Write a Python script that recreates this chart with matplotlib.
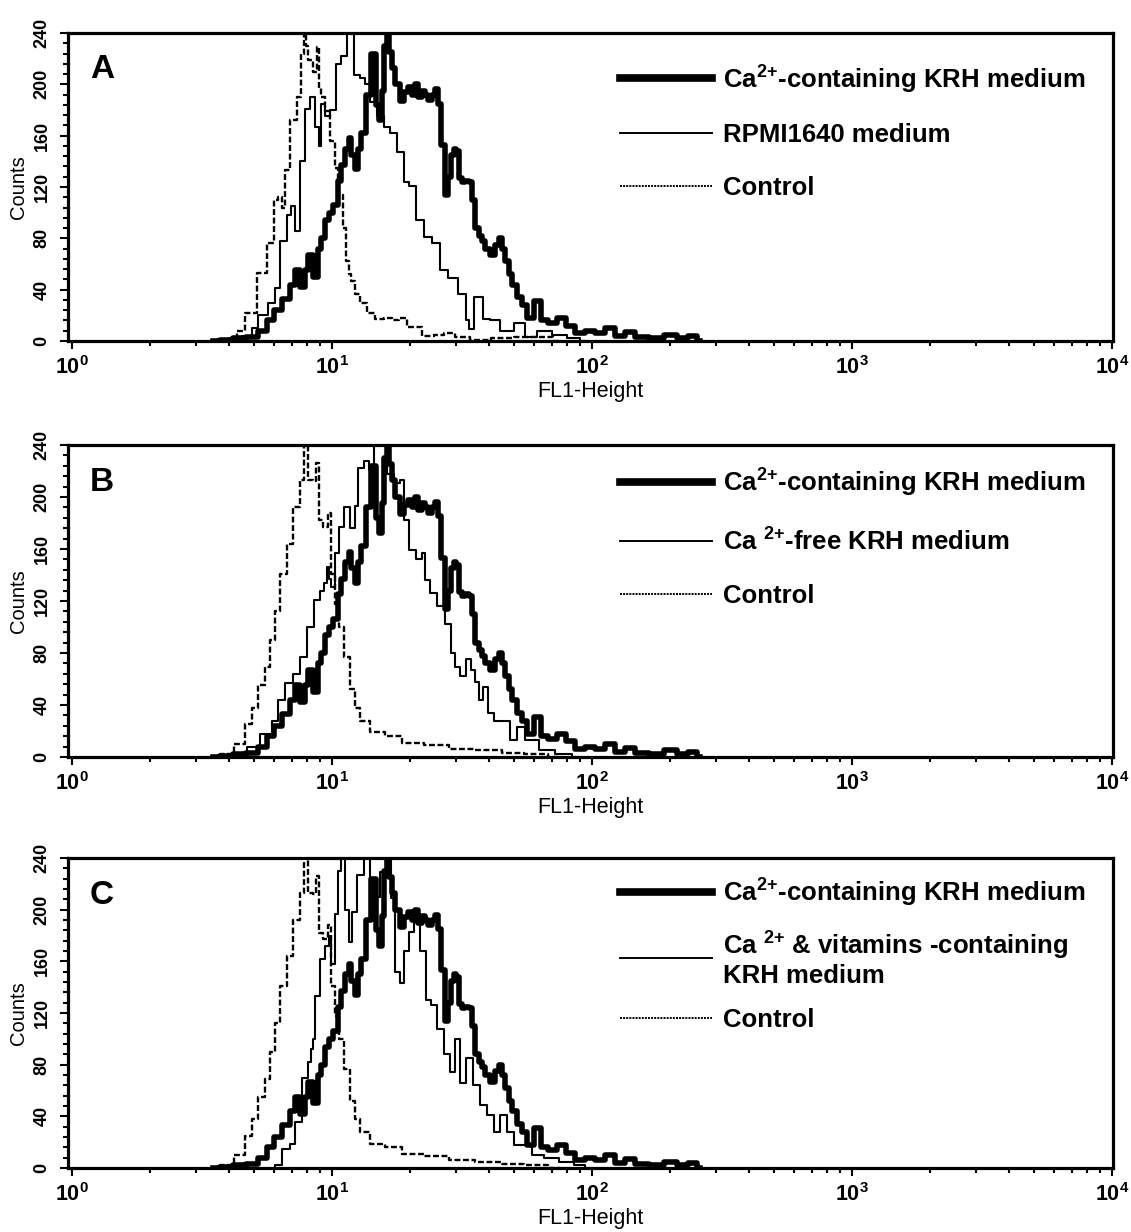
import numpy as np
import matplotlib
matplotlib.use('Agg')
import matplotlib.pyplot as plt
from matplotlib.lines import Line2D
from matplotlib.ticker import LogLocator, MultipleLocator, NullFormatter

plt.rcParams['font.family'] = ['Liberation Sans', 'DejaVu Sans']

# Ca2+-containing KRH medium (same histogram in all three panels)
krh_x = [3.5, 3.95, 4.4, 4.97, 5.43, 5.78, 6.14, 6.71, 7.08, 7.33, 7.67, 8.01, 8.23, 8.61, 8.99,
         9.23, 9.57, 9.82, 10.27, 10.73, 11.02, 11.42, 11.73, 12.04, 12.48, 12.81, 13.16, 13.75,
         14.38, 15.03, 15.3, 15.71, 16.0, 16.42, 16.71, 17.17, 17.8, 18.58, 19.42, 19.95, 20.5,
         21.2, 21.8, 22.4, 23.2, 23.8, 24.5, 25.3, 26.0, 26.5, 27.7, 28.4, 29.2, 29.7, 30.3, 31.1,
         31.9, 33.1, 33.9, 34.9, 36.1, 37.1, 38.1, 39.5, 41.6, 43.1, 44.3, 45.5, 47.1, 48.4, 49.7,
         52.9, 54.3, 57.8, 62.0, 64.8, 70.2, 76.7, 82.3, 89.9, 98.2, 107, 117, 128, 140, 153, 178,
         200, 224, 245, 260]
krh_counts = [0, 1, 2, 3, 8, 16, 24, 33, 44, 55, 42, 55, 67, 50, 72,
              80, 94, 100, 106, 125, 137, 150, 158, 145, 134, 150, 162, 192,
              224, 184, 172, 195, 230, 248, 225, 213, 200, 187, 194, 198, 192,
              200, 190, 195, 192, 188, 192, 196, 185, 153, 114, 128, 145, 150, 148, 127,
              124, 125, 124, 110, 88, 82, 78, 72, 67, 75, 80, 72, 62, 52, 44,
              34, 28, 18, 31, 16, 14, 18, 12, 6, 8, 6, 10, 4, 7, 3, 2,
              5, 2, 4, 0]

# Control, panel A
ctrl_a_x = [3.49, 3.95, 4.16, 4.43, 4.84, 5.43, 5.78, 6.14, 6.31, 6.48, 6.71, 7.08, 7.53, 7.73,
            7.87, 8.01, 8.23, 8.61, 8.83, 8.99, 9.16, 9.57, 10.09, 10.45, 10.73, 11.22, 11.42,
            11.73, 12.04, 12.48, 13.16, 14.0, 15.3, 16.29, 17.8, 18.27, 20.5, 24.0, 25.3, 28.4,
            31.0, 37.1, 45.0, 55.0, 67.1, 75.0]
ctrl_a_counts = [0, 1, 2, 8, 22, 53, 76, 110, 112, 104, 133, 172, 190, 224,
                 250, 230, 219, 210, 229, 197, 190, 179, 156, 135, 114, 88, 62,
                 52, 47, 37, 30, 22, 17, 18, 16, 18, 11, 4, 5, 6,
                 3, 1, 2, 3, 3, 0]

# Control, panels B and C
ctrl_bc_x = [3.49, 3.95, 4.43, 4.84, 5.0, 5.43, 5.62, 5.93, 6.14, 6.48, 6.89, 7.33, 7.67, 7.87,
             8.23, 8.61, 8.76, 8.99, 9.4, 9.82, 10.09, 10.45, 10.92, 11.42, 11.94, 12.48, 13.16,
             14.9, 17.17, 19.95, 25.3, 31.1, 40.0, 50.0, 60.0, 75.0]
ctrl_bc_counts = [0, 2, 10, 25, 38, 55, 69, 90, 112, 141, 164, 192, 213, 250,
                  213, 212, 226, 182, 177, 188, 141, 118, 100, 77, 52, 38, 28,
                  19, 16, 11, 9, 6, 5, 3, 2, 0]

# RPMI1640 medium (panel A)
rpmi_x = [4.16, 4.84, 5.0, 5.43, 5.93, 6.14, 6.48, 6.89, 7.08, 7.33, 7.73, 8.01, 8.45, 8.76,
          8.99, 9.16, 9.57, 10.09, 10.6, 11.02, 11.73, 12.48, 13.16, 13.6, 14.38, 15.3, 16.29,
          17.17, 18.27, 19.42, 20.3, 21.8, 23.2, 25.3, 26.7, 29.2, 31.9, 33.4, 33.9, 36.4, 39.5,
          41.6, 47.1, 52.9, 57.8, 64.8, 75.3, 84.5, 95.0]
rpmi_counts = [0, 4, 10, 20, 30, 41, 78, 98, 105, 86, 140, 181, 190, 167,
               152, 185, 175, 180, 216, 222, 245, 207, 205, 200, 186, 175, 167,
               162, 147, 124, 121, 94, 81, 76, 55, 49, 37, 16, 9, 34, 17,
               16, 8, 14, 3, 8, 5, 2, 0]

# Ca2+-free KRH medium (panel B)
free_x = [3.95, 4.43, 4.97, 5.62, 6.14, 6.31, 6.89, 7.33, 7.73, 8.23, 8.83, 9.23, 9.4, 9.66,
          9.82, 10.09, 10.45, 10.92, 11.42, 11.94, 12.48, 12.81, 13.64, 14.0, 14.9, 15.71, 16.71,
          17.8, 18.58, 19.42, 20.3, 21.8, 22.4, 23.2, 24.5, 26.0, 28.4, 29.2, 30.3, 31.9, 33.4,
          34.9, 36.1, 37.1, 38.8, 40.5, 43.1, 47.1, 49.7, 52.9, 57.8, 67.1, 77.3, 90.0]
free_counts = [0, 2, 8, 18, 28, 44, 57, 64, 77, 100, 121, 128, 134, 146,
               137, 131, 157, 177, 192, 176, 193, 222, 228, 221, 240, 250, 218,
               211, 213, 182, 159, 152, 157, 136, 126, 116, 102, 80, 69, 62, 75,
               67, 58, 44, 54, 34, 28, 28, 13, 23, 13, 5, 2, 0]

# Ca2+ & vitamins-containing KRH medium (panel C)
vit_x = [5.93, 6.14, 6.71, 7.08, 7.33, 8.01, 8.23, 8.38, 8.45, 8.83, 9.16, 9.57, 9.82, 10.09,
         10.45, 10.73, 11.02, 11.42, 11.73, 12.25, 12.81, 13.64, 14.25, 14.9, 15.71, 16.42, 17.17,
         17.8, 18.58, 19.42, 20.3, 21.2, 22.4, 23.4, 24.5, 26.0, 27.7, 29.0, 30.3, 31.9, 33.9,
         36.1, 38.1, 40.5, 43.1, 45.5, 48.4, 51.5, 56.2, 61.4, 68.9, 80.1, 89.9, 98.0]
vit_counts = [0, 2, 15, 19, 36, 70, 82, 92, 100, 133, 162, 172, 180, 158,
              197, 230, 248, 200, 175, 198, 227, 248, 222, 210, 229, 248, 209,
              152, 143, 168, 183, 194, 168, 130, 126, 108, 88, 74, 100, 66, 85,
              64, 49, 41, 28, 41, 28, 18, 18, 10, 8, 5, 2, 0]

panel_letters = ['A', 'B', 'C']
second_labels = [r'RPMI1640 medium',
                 r'Ca $^{\mathdefault{2{+}}}$-free KRH medium',
                 'Ca $^{\\mathdefault{2{+}}}$ & vitamins -containing\nKRH medium']
krh_label = r'Ca$^{\mathdefault{2{+}}}$-containing KRH medium'
second_series = [(rpmi_x, rpmi_counts), (free_x, free_counts), (vit_x, vit_counts)]
control_series = [(ctrl_a_x, ctrl_a_counts), (ctrl_bc_x, ctrl_bc_counts), (ctrl_bc_x, ctrl_bc_counts)]
y_ticks = [0, 40, 80, 120, 160, 200, 240]

fig = plt.figure(figsize=(11.31, 12.32), dpi=100)
rects = [[0.0601, 0.7232, 0.924, 0.2500],
         [0.0601, 0.3856, 0.924, 0.2532],
         [0.0601, 0.0519, 0.924, 0.2516]]
legend_tops = [0.907, 0.935, 0.944]
legend_spacing = [1.12, 1.12, 0.75]

for i in range(3):
    ax = fig.add_axes(rects[i])
    sx, sy = second_series[i]
    cx, cy = control_series[i]
    ax.plot(cx, cy, color='black', lw=1.7, ls=(0, (2.5, 1.1)), drawstyle='steps-mid')
    ax.plot(sx, sy, color='black', lw=1.5, drawstyle='steps-mid')
    ax.plot(krh_x, krh_counts, color='black', lw=4.0, drawstyle='steps-mid')

    ax.set_xscale('log')
    ax.set_xlim(0.965, 10090)
    ax.set_ylim(0, 240)
    ax.set_yticks(y_ticks)
    ax.yaxis.set_minor_locator(MultipleLocator(8))
    ax.xaxis.set_major_locator(LogLocator(base=10, numticks=10))
    ax.xaxis.set_minor_locator(LogLocator(base=10, subs=np.arange(2, 10), numticks=20))
    ax.xaxis.set_minor_formatter(NullFormatter())
    ax.tick_params(which='both', direction='out', top=False, right=False, width=1.5)
    ax.tick_params(which='major', length=6)
    ax.tick_params(which='minor', length=3.5)
    ax.tick_params(axis='y', labelrotation=90, pad=6.5, labelsize=13)
    ax.tick_params(axis='x', pad=5, labelsize=15.5)
    for lab in ax.get_yticklabels() + ax.get_xticklabels():
        lab.set_fontweight('bold')
    for lab in ax.get_yticklabels():
        lab.set_va('center')
    for sp in ax.spines.values():
        sp.set_linewidth(2.3)

    ax.set_ylabel('Counts', fontsize=14.5)
    ax.yaxis.set_label_coords(-0.038, 0.5)
    ax.set_xlabel('FL1-Height', fontsize=15.5)
    ax.xaxis.set_label_coords(0.5, -0.13)

    ax.text(0.021, 0.88, panel_letters[i], transform=ax.transAxes, fontsize=24,
            fontweight='bold', va='center', ha='left')

    handles = [Line2D([], [], color='black', lw=5.5),
               Line2D([], [], color='black', lw=1.4),
               Line2D([], [], color='black', lw=1.4, ls=(0, (1, 0.6)))]
    labels = [krh_label, second_labels[i], 'Control']
    ax.legend(handles, labels, loc='upper left', bbox_to_anchor=(0.528, legend_tops[i]),
              frameon=False, borderpad=0, borderaxespad=0, handlelength=3.6,
              handletextpad=0.4, labelspacing=legend_spacing[i],
              prop={'size': 18.5, 'weight': 'bold'})

fig.savefig('out.png', dpi=100)
